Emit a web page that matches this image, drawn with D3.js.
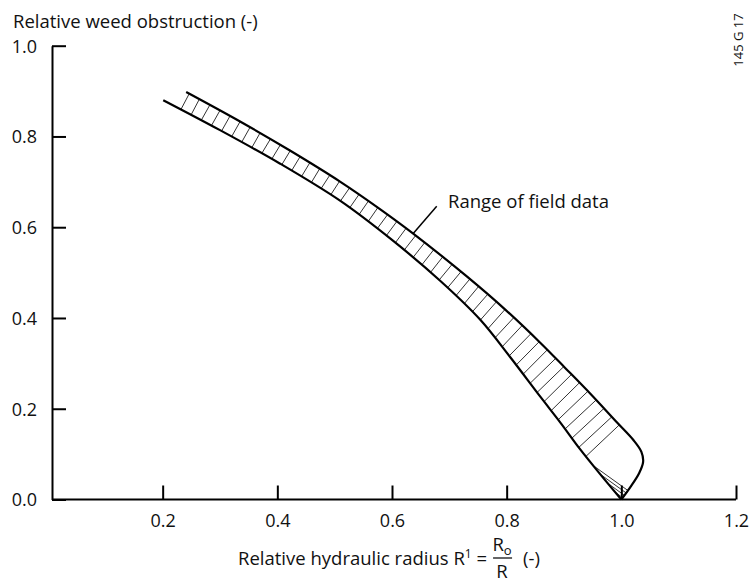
<!DOCTYPE html>
<html>
<head>
<meta charset="utf-8">
<script src="https://cdn.jsdelivr.net/npm/d3@7"></script>
<style>
  body { margin: 0; background: #fff; }
  text { font-family: "Open Sans", "Noto Sans", sans-serif; fill: #111; }
</style>
</head>
<body>
<script>
var width = 752,
    height = 583;

// tick values
var xTicks = [0.2, 0.4, 0.6, 0.8, 1.0, 1.2],
    yTicks = [0.0, 0.2, 0.4, 0.6, 0.8, 1.0];

// upper / right boundary of the field data range
var upperX = [0.241, 0.335, 0.422, 0.510, 0.579, 0.637, 0.731, 0.798, 0.859, 0.902, 0.946, 0.993, 1.021, 1.035, 1.038, 1.031, 1.016, 1.0],
    upperY = [0.898, 0.833, 0.769, 0.700, 0.640, 0.586, 0.491, 0.418, 0.345, 0.290, 0.233, 0.169, 0.131, 0.105, 0.083, 0.058, 0.028, 0.0];

// lower / left boundary
var lowerX = [0.201, 0.300, 0.405, 0.510, 0.600, 0.684, 0.754, 0.806, 0.859, 0.894, 0.928, 0.963, 1.0],
    lowerY = [0.880, 0.814, 0.740, 0.658, 0.572, 0.482, 0.396, 0.314, 0.226, 0.169, 0.111, 0.056, 0.0];

// label leader line (data units)
var leaderX = [0.637, 0.678],
    leaderY = [0.586, 0.646];

var x = d3.scaleLinear().domain([0, 1.2]).range([48, 736]),
    y = d3.scaleLinear().domain([0, 1]).range([499.5, 45.7]);

var svg = d3.select("body").append("svg")
    .attr("width", width)
    .attr("height", height);

var line = d3.line()
    .curve(d3.curveCatmullRom.alpha(0.5))
    .x(function(d) { return x(d[0]); })
    .y(function(d) { return y(d[1]); });

var upper = d3.zip(upperX, upperY),
    lower = d3.zip(lowerX, lowerY);

var gBand = svg.append("g");

var upperPath = gBand.append("path")
    .attr("d", line(upper))
    .attr("fill", "none")
    .attr("stroke", "#000")
    .attr("stroke-width", 2.2);

var lowerPath = gBand.append("path")
    .attr("d", line(lower))
    .attr("fill", "none")
    .attr("stroke", "#000")
    .attr("stroke-width", 2.2);

// hatching: from points along the lower edge to the nearest point of the upper edge
var upNode = upperPath.node(),
    upLen = upNode.getTotalLength(),
    upPts = d3.range(0, upLen, 0.5).map(function(l) { return upNode.getPointAtLength(l); });

var loNode = lowerPath.node(),
    loLen = loNode.getTotalLength();

var hatches = [];
for (var l = 20; l < loLen - 2; l += 11.5) {
  var p = loNode.getPointAtLength(l);
  var best = null, bd = Infinity;
  upPts.forEach(function(q) {
    var d = (q.x - p.x) * (q.x - p.x) + (q.y - p.y) * (q.y - p.y);
    if (d < bd) { bd = d; best = q; }
  });
  if (Math.sqrt(bd) > 2) hatches.push([p, best]);
}

gBand.insert("g", ":first-child")
  .selectAll("line")
  .data(hatches)
  .enter().append("line")
    .attr("x1", function(d) { return d[0].x; })
    .attr("y1", function(d) { return d[0].y; })
    .attr("x2", function(d) { return d[1].x; })
    .attr("y2", function(d) { return d[1].y; })
    .attr("stroke", "#333")
    .attr("stroke-width", 1);

// axes
var xAxis = svg.append("g")
    .attr("transform", "translate(0," + y(0) + ")")
    .call(d3.axisBottom(x).tickValues(xTicks).tickFormat(d3.format(".1f"))
      .tickSizeInner(-14).tickSizeOuter(0).tickPadding(15));

xAxis.select(".domain").attr("d", "M52,0H" + x(1.2));

var yAxis = svg.append("g")
    .attr("transform", "translate(52,0)")
    .call(d3.axisLeft(y).tickValues(yTicks).tickFormat(d3.format(".1f"))
      .tickSizeInner(-14).tickSizeOuter(0).tickPadding(15));

svg.selectAll(".domain, .tick line")
    .attr("stroke", "#000")
    .attr("stroke-width", 2);

svg.selectAll(".tick text")
    .style("font-family", "'Open Sans', 'Noto Sans', sans-serif")
    .style("font-size", "18px")
    .attr("fill", "#111");

yAxis.selectAll(".tick text").attr("dy", "0.35em");

// titles
svg.append("text")
    .attr("x", 13)
    .attr("y", 28)
    .style("font-size", "18.5px")
    .text("Relative weed obstruction (-)");

svg.append("text")
    .attr("transform", "translate(743,40)rotate(-90)")
    .attr("text-anchor", "middle")
    .style("font-size", "13px")
    .text("145 G 17");

// x label with fraction R1 = Ro / R
var xl = svg.append("text")
    .attr("x", 238)
    .attr("y", 565)
    .style("font-size", "18.5px");
xl.append("tspan").text("Relative hydraulic radius R");
xl.append("tspan").attr("dy", -7).style("font-size", "12px").text("1");
xl.append("tspan").attr("dy", 7).text(" =");

var bb = xl.node().getBBox(),
    fx = bb.x + bb.width + 16;

var num = svg.append("text")
    .attr("x", fx - 1)
    .attr("y", 551)
    .attr("text-anchor", "middle")
    .style("font-size", "18.5px");
num.append("tspan").text("R");
num.append("tspan").attr("dy", 4).style("font-size", "13px").text("o");

svg.append("line")
    .attr("x1", fx - 10).attr("x2", fx + 9)
    .attr("y1", 558).attr("y2", 558)
    .attr("stroke", "#111").attr("stroke-width", 1.3);

svg.append("text")
    .attr("x", fx - 1)
    .attr("y", 578)
    .attr("text-anchor", "middle")
    .style("font-size", "18.5px")
    .text("R");

svg.append("text")
    .attr("x", fx + 20)
    .attr("y", 565)
    .style("font-size", "18.5px")
    .text("(-)");

// annotation
svg.append("line")
    .attr("x1", x(leaderX[0])).attr("y1", y(leaderY[0]))
    .attr("x2", x(leaderX[1])).attr("y2", y(leaderY[1]))
    .attr("stroke", "#000").attr("stroke-width", 1.5);

svg.append("text")
    .attr("x", 448)
    .attr("y", 208)
    .style("font-size", "18.5px")
    .text("Range of field data");
</script>
</body>
</html>
